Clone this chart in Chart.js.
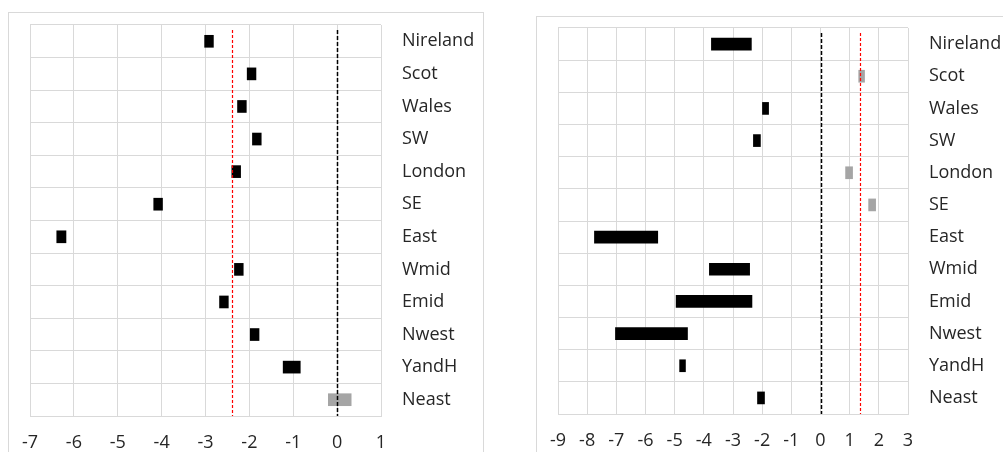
<!DOCTYPE html>
<html>
<head>
<meta charset="utf-8">
<script src="https://cdn.jsdelivr.net/npm/chart.js@4.4.1/dist/chart.umd.min.js"></script>
<style>
  html, body { margin: 0; padding: 0; background: #fff; }
  body { width: 1003px; height: 452px; position: relative; overflow: hidden; }
  .panel { position: absolute; border: 1px solid #d9d9d9; box-sizing: border-box; }
  #leftBox { left: 8px; top: 12px; width: 476px; height: 460px; }
  #rightBox { left: 536px; top: 16px; width: 480px; height: 460px; }
  .wrap { position: absolute; }
  #leftWrap { left: 8px; top: 12px; width: 475px; height: 440px; }
  #rightWrap { left: 536px; top: 16px; width: 467px; height: 436px; }
</style>
</head>
<body>
<div class="panel" id="leftBox"></div>
<div class="panel" id="rightBox"></div>
<div class="wrap" id="leftWrap"><canvas id="leftCanvas"></canvas></div>
<div class="wrap" id="rightWrap"><canvas id="rightCanvas"></canvas></div>
<script>
// 地区
const regions = ['Nireland', 'Scot', 'Wales', 'SW', 'London', 'SE', 'East', 'Wmid', 'Emid', 'Nwest', 'YandH', 'Neast'];

// 左图：区间下限 / 上限
const leftLow  = [-3.02, -2.05, -2.27, -1.93, -2.40, -4.18, -6.39, -2.34, -2.68, -1.98, -1.23, -0.20];
const leftHigh = [-2.82, -1.85, -2.07, -1.73, -2.20, -3.98, -6.18, -2.14, -2.48, -1.78, -0.84,  0.32];
const leftRedLine = -2.4;

// 右图：区间下限 / 上限
const rightLow  = [-3.74, 1.31, -1.99, -2.30, 0.86, 1.65, -7.75, -3.81, -4.95, -7.03, -4.83, -2.16];
const rightHigh = [-2.37, 1.51, -1.78, -2.06, 1.10, 1.89, -5.58, -2.43, -2.35, -4.56, -4.63, -1.92];
const rightRedLine = 1.35;

const zeroLine = 0;

const charts = {};

// 竖直虚线
const refLinesPlugin = {
    id: 'refLines',
    afterDatasetsDraw(chart, args, opts) {
        const ctx = chart.ctx;
        const xs = chart.scales.x;
        const area = chart.chartArea;
        opts.lines.forEach(l => {
            const px = Math.round(xs.getPixelForValue(l.value)) + 0.5;
            ctx.save();
            ctx.strokeStyle = l.color;
            ctx.lineWidth = l.width;
            ctx.setLineDash(l.dash);
            ctx.beginPath();
            ctx.moveTo(px, area.top + 5);
            ctx.lineTo(px, area.bottom);
            ctx.stroke();
            ctx.restore();
        });
    }
};

function makeChart(id, low, high, xmin, xmax, redLine, pad, yWidth, xHeight) {
    const ctx = document.getElementById(id).getContext('2d');
    const data = low.map((v, i) => [v, high[i]]);
    const colors = high.map(v => v > 0 ? '#a5a5a5' : '#000000');

    if (charts[id]) {
        charts[id].destroy();
    }

    charts[id] = new Chart(ctx, {
        type: 'bar',
        data: {
            labels: regions,
            datasets: [{
                data: data,
                backgroundColor: colors,
                borderWidth: 0,
                barThickness: 12
            }]
        },
        options: {
            indexAxis: 'y',
            responsive: true,
            maintainAspectRatio: false,
            animation: false,
            layout: {
                padding: { left: pad.left, top: pad.top, right: 0, bottom: 0 }
            },
            plugins: {
                legend: { display: false },
                tooltip: { enabled: false },
                refLines: {
                    lines: [
                        { value: redLine, color: '#ff0000', width: 1.2, dash: [3, 2] },
                        { value: zeroLine, color: '#000000', width: 1.5, dash: [4, 2] }
                    ]
                }
            },
            scales: {
                x: {
                    type: 'linear',
                    min: xmin,
                    max: xmax,
                    ticks: {
                        stepSize: 1,
                        color: '#262626',
                        font: { family: 'Open Sans', size: 18 },
                        padding: 16
                    },
                    grid: { color: '#d9d9d9', drawTicks: false },
                    border: { display: false },
                    afterFit(scale) {
                        scale.height = xHeight;
                        scale.paddingLeft = 0;
                        scale.paddingRight = 0;
                    }
                },
                y: {
                    position: 'right',
                    ticks: {
                        color: '#262626',
                        font: { family: 'Open Sans', size: 18 },
                        padding: 21,
                        crossAlign: 'near'
                    },
                    grid: { color: '#d9d9d9', drawTicks: false },
                    border: { color: '#d9d9d9' },
                    afterFit(scale) {
                        scale.width = yWidth;
                        scale.paddingTop = 0;
                        scale.paddingBottom = 0;
                    }
                }
            }
        },
        plugins: [refLinesPlugin]
    });
}

makeChart('leftCanvas', leftLow, leftHigh, -7, 1, leftRedLine, { left: 22, top: 13 }, 102, 36);
makeChart('rightCanvas', rightLow, rightHigh, -9, 3, rightRedLine, { left: 22, top: 12 }, 95, 38);
</script>
</body>
</html>
